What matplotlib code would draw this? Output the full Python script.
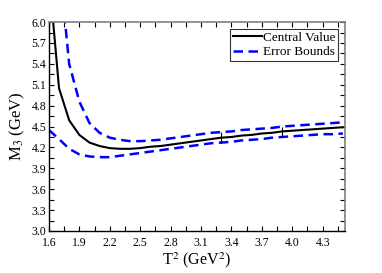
import matplotlib
matplotlib.use("Agg")
import matplotlib.pyplot as plt
import numpy as np

T2 = [1.6, 1.7, 1.8, 1.9, 2.0, 2.1, 2.2, 2.3, 2.4, 2.5, 2.6, 2.7, 2.8, 2.9, 3.0,
      3.1, 3.2, 3.3, 3.4, 3.5, 3.6, 3.7, 3.8, 3.9, 4.0, 4.1, 4.2, 4.3, 4.4, 4.5]
central = [6.69, 5.05, 4.59, 4.38, 4.27, 4.22, 4.19, 4.18, 4.18, 4.19, 4.21, 4.22, 4.24, 4.26, 4.28,
           4.30, 4.32, 4.34, 4.35, 4.37, 4.38, 4.40, 4.41, 4.43, 4.44, 4.45, 4.46, 4.47, 4.48, 4.49]
upper = [8.00, 6.90, 5.40, 4.86, 4.55, 4.41, 4.34, 4.31, 4.29, 4.29, 4.30, 4.31, 4.33, 4.35, 4.37,
         4.39, 4.41, 4.42, 4.43, 4.45, 4.46, 4.47, 4.48, 4.50, 4.51, 4.52, 4.53, 4.54, 4.55, 4.56]
lower = [4.45, 4.32, 4.18, 4.10, 4.07, 4.06, 4.06, 4.08, 4.10, 4.12, 4.14, 4.16, 4.18, 4.20, 4.22,
         4.24, 4.26, 4.27, 4.28, 4.30, 4.31, 4.32, 4.34, 4.35, 4.36, 4.37, 4.38, 4.39, 4.39, 4.40]
seg_x = [3.3, 3.9]
seg_lo = [4.27, 4.35]
seg_hi = [4.42, 4.50]

xticks = [1.6, 1.9, 2.2, 2.5, 2.8, 3.1, 3.4, 3.7, 4.0, 4.3]
yticks = [3.0, 3.3, 3.6, 3.9, 4.2, 4.5, 4.8, 5.1, 5.4, 5.7, 6.0]

plt.rcParams['font.family'] = ['Liberation Serif', 'DejaVu Serif']
plt.rcParams['mathtext.fontset'] = 'stix'

fig = plt.figure(figsize=(3.82, 2.73), dpi=100)
ax = fig.add_axes([0.128, 0.154, 0.775, 0.765])

ax.plot(T2, central, color='black', lw=1.5, label='Central Value')
ax.plot(T2, upper, color='#0000ff', lw=1.8, ls=(0, (3.8, 2.2)), label='Error Bounds')
ax.plot(T2, lower, color='#0000ff', lw=1.8, ls=(0, (3.8, 2.2)))
ax.vlines(seg_x, seg_lo, seg_hi, color='black', lw=0.8)

ax.set_xlim(1.6, 4.52)
ax.set_ylim(3.0, 6.0)
ax.set_xticks(xticks)
ax.set_xticklabels([f"{v:.1f}" for v in xticks])
ax.set_yticks(yticks)
ax.set_yticklabels([f"{v:.1f}" for v in yticks])
ax.set_xticks(np.arange(1.75, 4.52, 0.3), minor=True)
ax.set_yticks(np.arange(3.15, 6.0, 0.3), minor=True)
ax.tick_params(which='both', direction='in', top=True, right=True, labelsize=8.5)
ax.tick_params(axis='x', which='both', pad=4.5)
ax.tick_params(axis='y', which='both', pad=2)
ax.tick_params(which='major', length=3.5, width=0.8)
ax.tick_params(which='minor', length=3.5, width=0.8)

for s in ['left', 'bottom']:
    ax.spines[s].set_color('black')
    ax.spines[s].set_linewidth(1.0)
for s in ['top', 'right']:
    ax.spines[s].set_color('#808080')
    ax.spines[s].set_linewidth(1.2)

ax.set_xlabel('T$^2$ (GeV$^2$)', fontsize=11.5, labelpad=1)
ax.set_ylabel('M$_3$ (GeV)', fontsize=12, labelpad=3)

leg = ax.legend(loc='upper right', fontsize=9.5, frameon=True, fancybox=False,
                edgecolor='black', borderaxespad=0.5, handlelength=2.2,
                handletextpad=0.1, borderpad=0.2, labelspacing=0.2)
leg.get_frame().set_linewidth(0.8)

fig.savefig('out.png', dpi=100)
